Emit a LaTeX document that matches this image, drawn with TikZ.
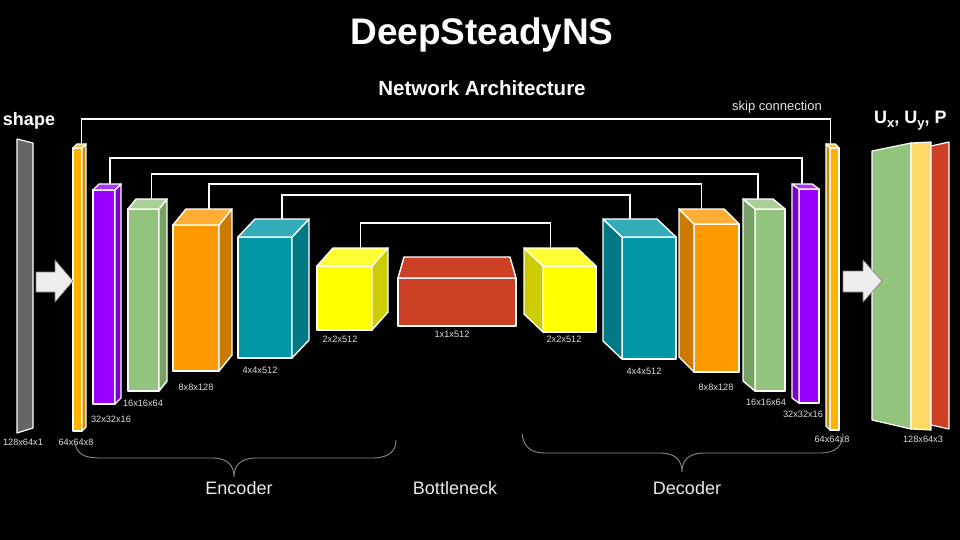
\documentclass[tikz,border=0pt]{standalone}
\usepackage{fontspec}
\setmainfont{Liberation Sans}
\usetikzlibrary{calc}
\definecolor{thinor}{HTML}{FFB300}
\definecolor{thinorS}{HTML}{CC8F00}
\definecolor{thinorT}{HTML}{FFC233}
\definecolor{purp}{HTML}{9900FF}
\definecolor{purpS}{HTML}{7A00CC}
\definecolor{purpT}{HTML}{AD33FF}
\definecolor{grn}{HTML}{93C47D}
\definecolor{grnS}{HTML}{76A064}
\definecolor{grnT}{HTML}{A9D097}
\definecolor{orn}{HTML}{FF9900}
\definecolor{ornS}{HTML}{CC7A00}
\definecolor{ornT}{HTML}{FFAD33}
\definecolor{teal2}{HTML}{0097A7}
\definecolor{teal2S}{HTML}{007985}
\definecolor{teal2T}{HTML}{33ACB9}
\definecolor{yel}{HTML}{FFFF00}
\definecolor{yelS}{HTML}{CCCC00}
\definecolor{yelT}{HTML}{FFFF33}
\definecolor{redb}{HTML}{CC4125}
\definecolor{outy}{HTML}{FFD966}
\definecolor{gshape}{HTML}{666666}
\definecolor{lbltext}{HTML}{DDDDDD}
\definecolor{bracec}{HTML}{8A8A8A}
% #1 name #2 x1 #3 y1 #4 x2 #5 y2 #6 dx #7 dy #8 colour prefix
\newcommand{\cubR}[8]{%
  \filldraw[blk, fill=#8] (#2,#3) rectangle (#4,#5);
  \filldraw[blk, fill=#8S] (#4,#3) -- ++(#6,#7) -- ($(#4,#5)+(#6,#7)$) -- (#4,#5) -- cycle;
  \filldraw[blk, fill=#8T] (#2,#3) -- (#4,#3) -- ++(#6,#7) -- ($(#2,#3)+(#6,#7)$) -- cycle;
  \coordinate (#1) at ($(#2,#3)!0.5!(#4,#3)+(#6,#7)$);
}
\newcommand{\cubL}[8]{%
  \filldraw[blk, fill=#8] (#2,#3) rectangle (#4,#5);
  \filldraw[blk, fill=#8S] (#2,#3) -- ++(#6,#7) -- ($(#2,#5)+(#6,#7)$) -- (#2,#5) -- cycle;
  \filldraw[blk, fill=#8T] (#2,#3) -- (#4,#3) -- ++(#6,#7) -- ($(#2,#3)+(#6,#7)$) -- cycle;
  \coordinate (#1) at ($(#2,#3)!0.5!(#4,#3)+(#6,#7)$);
}
\begin{document}
\begin{tikzpicture}[x=1pt,y=-1pt,
  blk/.style={draw=white, line width=1.4pt, line join=round},
  skipline/.style={draw=white, line width=1.4pt},
  dimlbl/.style={inner sep=0pt, text=lbltext, font=\fontsize{9.2}{10}\selectfont},
  partlbl/.style={inner sep=0pt, text=white!92!black, font=\fontsize{18}{20}\selectfont},
  bracestyle/.style={draw=bracec, line width=0.9pt},
  bigarrow/.style={fill=white!93!black, draw=gray, line width=0.6pt}]
\useasboundingbox (0,0) rectangle (960,540);
\fill[black] (0,0) rectangle (960,540);

% titles
\node[inner sep=0pt, text=white, font=\fontsize{37}{40}\selectfont\bfseries] (title) at (482,35) {DeepSteadyNS};
\node[inner sep=0pt, text=white, font=\fontsize{20.5}{22}\selectfont\bfseries] (subtitle) at (482,88) {Network Architecture};
\node[inner sep=0pt, text=white, font=\fontsize{18}{20}\selectfont\bfseries] (shapelbl) at (29,121) {shape};
\node[inner sep=0pt, text=white, font=\fontsize{18}{20}\selectfont\bfseries, anchor=west] (outlbl) at (874,121)
  {U\raisebox{-0.45ex}{\fontsize{13}{13}\selectfont x}, U\raisebox{-0.45ex}{\fontsize{13}{13}\selectfont y}, P};
\node[inner sep=0pt, text=white!90!black, font=\fontsize{13}{14}\selectfont] (skiplbl) at (777,107) {skip connection};

% skip connection levels
\coordinate (s1) at (0,119);
\coordinate (s2) at (0,158);
\coordinate (s3) at (0,174);
\coordinate (s4) at (0,184);
\coordinate (s5) at (0,195);
\coordinate (s6) at (0,223);

% input shape
\filldraw[blk, fill=gshape, line width=1.2pt] (17,139) -- (33,143) -- (33,428) -- (17,433) -- cycle;
\coordinate (inshape) at (25,286);

% encoder
\cubR{e1}{73}{148}{82}{431}{4}{-4}{thinor}
\cubR{e2}{93}{190}{115}{404}{6}{-6}{purp}
\cubR{e3}{128}{209}{159}{391}{8}{-10}{grn}
\cubR{e4}{173}{225}{219}{371}{13}{-16}{orn}
\cubR{e5}{238}{237}{292}{358}{17}{-18}{teal2}
\cubR{e6}{317}{266}{372}{330}{16}{-18}{yel}

% bottleneck
\filldraw[blk, fill=redb] (398,278) rectangle (516,326);
\filldraw[blk, fill=redb] (398,278) -- (404,257) -- (510,257) -- (516,278) -- cycle;
\coordinate (bn) at (457,257);

% decoder
\cubL{d6}{543}{266}{596}{332}{-19}{-18}{yel}
\cubL{d5}{622}{237}{676}{359}{-19}{-18}{teal2}
\cubL{d4}{694}{224}{739}{372}{-15}{-15}{orn}
\cubL{d3}{755}{209}{785}{391}{-12}{-10}{grn}
\cubL{d2}{799}{189}{819}{403}{-7}{-5}{purp}
\cubL{d1}{830}{148}{839}{430}{-4}{-4}{thinor}

% output layers
\filldraw[blk, fill=grn, line width=1.2pt] (872,151) -- (911,143) -- (911,429) -- (872,420) -- cycle;
\filldraw[blk, fill=outy, line width=1.2pt] (911,143) -- (931,142) -- (931,430) -- (911,429) -- cycle;
\filldraw[blk, fill=redb, line width=1.2pt] (931,146) -- (949,142) -- (949,429) -- (931,425) -- cycle;

% arrows (drawn on top)
\filldraw[bigarrow] (36,272) -- (55,272) -- (55,260) -- (73,281) -- (55,302) -- (55,292) -- (36,292) -- cycle;
\filldraw[bigarrow] (843,271) -- (863,271) -- (863,260) -- (882,281) -- (863,302) -- (863,292) -- (843,292) -- cycle;

% skip connections
\draw[skipline] (e1) -- (e1|-s1) -- (d1|-s1) -- (d1);
\draw[skipline] (e2) -- (e2|-s2) -- (d2|-s2) -- (d2);
\draw[skipline] (e3) -- (e3|-s3) -- (d3|-s3) -- (d3);
\draw[skipline] (e4) -- (e4|-s4) -- (d4|-s4) -- (d4);
\draw[skipline] (e5) -- (e5|-s5) -- (d5|-s5) -- (d5);
\draw[skipline] (e6) -- (e6|-s6) -- (d6|-s6) -- (d6);

% dimension labels
\node[dimlbl] (l0) at (23,442) {128x64x1};
\node[dimlbl] (l1) at (76,442) {64x64x8};
\node[dimlbl] (l2) at (111,419) {32x32x16};
\node[dimlbl] (l3) at (143,403) {16x16x64};
\node[dimlbl] (l4) at (196,387) {8x8x128};
\node[dimlbl] (l5) at (260,370) {4x4x512};
\node[dimlbl] (l6) at (340,339) {2x2x512};
\node[dimlbl] (l7) at (452,334) {1x1x512};
\node[dimlbl] (l8) at (564,339) {2x2x512};
\node[dimlbl] (l9) at (644,371) {4x4x512};
\node[dimlbl] (l10) at (716,387) {8x8x128};
\node[dimlbl] (l11) at (766,402) {16x16x64};
\node[dimlbl] (l12) at (803,414) {32x32x16};
\node[dimlbl] (l13) at (832,439) {64x64x8};
\node[dimlbl] (l14) at (923,439) {128x64x3};

% braces
\draw[bracestyle] (75,443) .. controls (77,454) and (84,458) .. (100,458) -- (212,458)
  .. controls (228,458) and (234,466) .. (234,477)
  .. controls (234,466) and (240,458) .. (256,458) -- (372,458)
  .. controls (388,458) and (396,452) .. (396,440);
\draw[bracestyle] (522,434) .. controls (524,447) and (530,453) .. (546,453) -- (660,453)
  .. controls (676,453) and (682,461) .. (682,472)
  .. controls (682,461) and (688,453) .. (704,453) -- (820,453)
  .. controls (836,453) and (843,446) .. (843,433);

\node[partlbl] (enc) at (239,488) {Encoder};
\node[partlbl] (bott) at (455,488) {Bottleneck};
\node[partlbl] (dec) at (687,488) {Decoder};
\end{tikzpicture}
\end{document}
